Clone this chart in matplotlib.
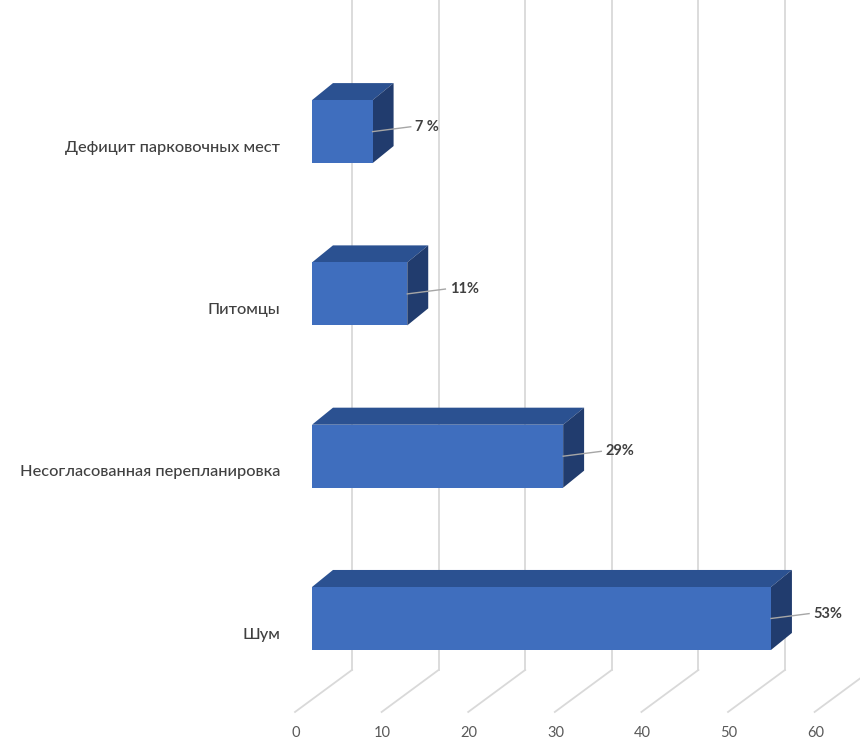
import matplotlib
matplotlib.use("Agg")
import matplotlib.pyplot as plt
from matplotlib.patches import Polygon

categories = ["Шум", "Несогласованная перепланировка", "Питомцы", "Дефицит парковочных мест"]
values = [53, 29, 11, 7]
value_labels = ["53%", "29%", "11%", "7 %"]
ticks = [0, 10, 20, 30, 40, 50, 60]

plt.rcParams['font.family'] = ['Lato', 'DejaVu Sans']

fig = plt.figure(figsize=(8.6, 7.54), dpi=100)
ax = fig.add_axes([0, 0, 1, 1])
ax.set_xlim(-36.03, 63.28)
ax.set_ylim(-0.835, 3.811)
ax.axis('off')

# pseudo-3D geometry (in data units)
bar_h = 0.388
dx, dy = 2.42, 0.105          # bar depth
floor_front_dx, floor_front_y = -1.96, -0.576
wall_dx, floor_back_y = 4.62, -0.317

front_col = '#3F6EBE'
top_col = '#2B5191'
side_col = '#213C6E'
grid_col = '#D9D9D9'

# gridlines: floor diagonals + back wall verticals
for t in ticks:
    ax.plot([t + floor_front_dx, t + wall_dx], [floor_front_y, floor_back_y],
            color=grid_col, lw=1.3, zorder=1, clip_on=False)
    ax.plot([t + wall_dx, t + wall_dx], [floor_back_y, 3.811],
            color=grid_col, lw=1.3, zorder=1)
    ax.text(t + floor_front_dx + 0.1, -0.706, str(t), ha='center', va='center',
            fontsize=10.5, color='#595959')

for i, (v, lab) in enumerate(zip(values, value_labels)):
    y0, y1 = i - bar_h / 2, i + bar_h / 2
    ax.add_patch(Polygon([(0, y1), (v, y1), (v + dx, y1 + dy), (dx, y1 + dy)],
                         closed=True, fc=top_col, ec='none', zorder=3))
    ax.add_patch(Polygon([(v, y0), (v, y1), (v + dx, y1 + dy), (v + dx, y0 + dy)],
                         closed=True, fc=side_col, ec='none', zorder=3))
    ax.add_patch(Polygon([(0, y0), (v, y0), (v, y1), (0, y1)],
                         closed=True, fc=front_col, ec='none', zorder=4))
    # leader line + value label
    ax.plot([v, v + 4.4], [i, i + 0.03], color='#A6A6A6', lw=1, zorder=5)
    ax.text(v + 4.9, i + 0.03, lab, ha='left', va='center', fontsize=10.5,
            color='#404040', fontweight='bold', zorder=6)
    ax.text(-3.7, i - 0.1, categories[i], ha='right', va='center',
            fontsize=11.8, color='#404040', fontweight='medium')

fig.savefig('out.png', dpi=100, facecolor='white')
